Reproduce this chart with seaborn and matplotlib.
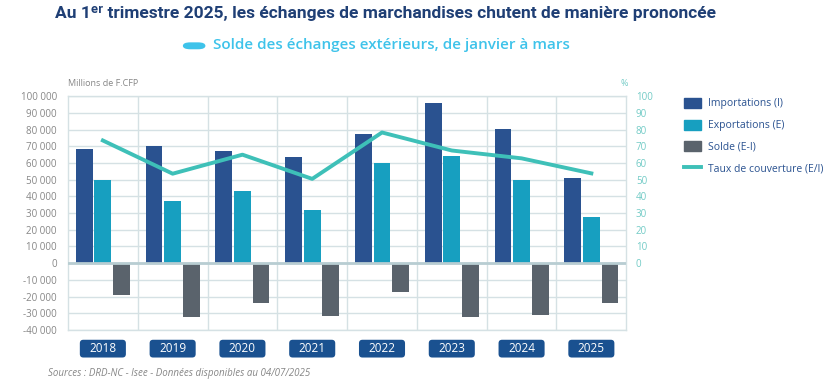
import numpy as np
import pandas as pd
import matplotlib.pyplot as plt
import matplotlib.patches as mpatches
import matplotlib.lines as mlines
import seaborn as sns

# ---- Data (millions de F.CFP, 1er trimestre) ----
years = ['2018', '2019', '2020', '2021', '2022', '2023', '2024', '2025']
importations = [68300, 70000, 67000, 63500, 77200, 96000, 80400, 51300]
exportations = [50100, 37500, 43500, 32000, 60300, 64000, 50100, 27700]
solde = [-18800, -32500, -24000, -31500, -17500, -32200, -30800, -24000]
taux = [73.5, 53.6, 65.0, 50.5, 78.3, 67.5, 62.8, 53.8]

series_names = ['Importations (I)', 'Exportations (E)', 'Solde (E-I)']
line_name = 'Taux de couverture (E/I)'

c_imp = '#2a5290'
c_exp = '#179fc0'
c_sol = '#5a636c'
c_taux = '#3ec0b8'
c_grid = '#d5e1e4'
c_title = '#1f3f75'

df = pd.DataFrame({
    'annee': years * 3,
    'valeur': importations + exportations + solde,
    'serie': [series_names[0]] * 8 + [series_names[1]] * 8 + [series_names[2]] * 8,
})

plt.rcParams['font.family'] = ['Open Sans', 'DejaVu Sans']

fig = plt.figure(figsize=(8.35, 3.85), dpi=100)
ax = fig.add_axes([0.0814, 0.143, 0.6686, 0.607])

sns.barplot(data=df, x='annee', y='valeur', hue='serie', order=years,
            hue_order=series_names, palette=[c_imp, c_exp, c_sol],
            width=0.8, gap=0.1, saturation=1, legend=False, ax=ax, zorder=3)

ax.set_ylim(-40000, 100000)
ax.set_xlim(-0.5, len(years) - 0.5)
ax.set_yticks(np.arange(-40000, 100001, 10000))
ax.set_yticklabels([f'{v:,}'.replace(',', ' ') for v in range(-40000, 100001, 10000)],
                   fontsize=7, color='#868686')
ax.tick_params(axis='both', length=0, pad=8)
ax.set_xticks([])
ax.set_xlabel('')
ax.set_ylabel('')
ax.grid(axis='y', color=c_grid, lw=1, zorder=0)
for xv in np.arange(0.5, len(years) - 0.5, 1):
    ax.axvline(xv, color=c_grid, lw=1, zorder=0)
ax.axhline(0, color='#b8cdd2', lw=2, zorder=4)
for s in ax.spines.values():
    s.set_color(c_grid)
    s.set_linewidth(1)

# ---- Taux de couverture, axe de droite ----
ax2 = ax.twinx()
sns.lineplot(x=np.arange(len(years)), y=taux, color=c_taux, lw=2.8, ax=ax2, zorder=5)
ax2.set_ylim(-40, 100)
ax2.set_yticks(np.arange(0, 101, 10))
ax2.set_yticklabels([str(v) for v in range(0, 101, 10)], fontsize=7, color='#72cbc6')
ax2.tick_params(axis='y', length=0, pad=7)
for s in ax2.spines.values():
    s.set_visible(False)

# ---- Year boxes ----
xtr = ax.get_xaxis_transform()
for i, y in enumerate(years):
    ax.add_patch(mpatches.FancyBboxPatch((i - 0.33, -0.118), 0.66, 0.076,
                                         boxstyle='round,pad=0,rounding_size=0.05',
                                         mutation_aspect=0.3,
                                         transform=xtr, fc='#1a5190', ec='none',
                                         clip_on=False))
    ax.text(i, -0.080, y, transform=xtr, ha='center', va='center',
            fontsize=8.5, color='white')

# ---- Axis captions ----
fig.text(0.0814, 0.772, 'Millions de F.CFP', fontsize=6.5, color='#868686', ha='left', va='bottom')
fig.text(0.743, 0.772, '%', fontsize=6.5, color='#72cbc6', ha='left', va='bottom')

# ---- Legend ----
handles = [mpatches.Patch(color=c_imp), mpatches.Patch(color=c_exp), mpatches.Patch(color=c_sol),
           mlines.Line2D([], [], color=c_taux, lw=2.8)]
leg = fig.legend(handles, series_names + [line_name], loc='upper left',
                 bbox_to_anchor=(0.808, 0.77), frameon=False, fontsize=7.5,
                 handlelength=1.6, handleheight=1.1, labelspacing=0.98, handletextpad=0.7)
for t in leg.get_texts():
    t.set_color(c_imp)

# ---- Titles ----
fig.text(0.462, 0.965, "Au 1ᵉʳ trimestre 2025, les échanges de marchandises chutent de manière prononcée",
         ha='center', va='center', fontsize=12.5, fontweight='bold', color=c_title,
         family=['Roboto', 'DejaVu Sans'])
fig.patches.append(mpatches.FancyBboxPatch((0.219, 0.872), 0.027, 0.018,
                                           boxstyle='round,pad=0,rounding_size=0.009',
                                           transform=fig.transFigure, fc='#3ec3ea', ec='none'))
fig.text(0.255, 0.882, 'Solde des échanges extérieurs, de janvier à mars',
         ha='left', va='center', fontsize=11, fontweight='semibold', color='#3ec3ea')

fig.text(0.058, 0.03, 'Sources : DRD-NC - Isee - Données disponibles au 04/07/2025',
         ha='left', va='center', fontsize=7, style='italic', color='#868686')

fig.savefig('out.png', dpi=100)
